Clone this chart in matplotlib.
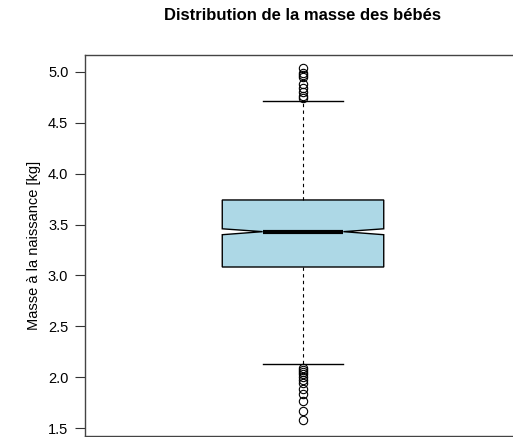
import matplotlib
matplotlib.use("Agg")
import matplotlib.pyplot as plt

plt.rcParams['font.family'] = ['Liberation Sans', 'DejaVu Sans']

# Data (kg)
q1 = 3.083
median = 3.430
q3 = 3.741
notch_lo = 3.400
notch_hi = 3.458
whisker_lo = 2.132
whisker_hi = 4.712
outliers_high = [5.04, 4.99, 4.97, 4.95, 4.88, 4.84, 4.80, 4.76, 4.74]
outliers_low = [2.09, 2.07, 2.05, 2.03, 2.00, 1.97, 1.94, 1.89, 1.84, 1.77, 1.67, 1.58]
yticks = [1.5, 2.0, 2.5, 3.0, 3.5, 4.0, 4.5, 5.0]

W, H = 513, 437
fig = plt.figure(figsize=(W / 100, H / 100), dpi=100)
left, right, top, bottom = 85, 521, 54.7, 435.5
ax = fig.add_axes([left / W, 1 - bottom / H, (right - left) / W, (bottom - top) / H])

stats = [dict(med=median, q1=q1, q3=q3, whislo=whisker_lo, whishi=whisker_hi,
              cilo=notch_lo, cihi=notch_hi,
              fliers=outliers_high + outliers_low, label='')]

ax.bxp(stats, positions=[1], widths=0.4, shownotches=True, patch_artist=True,
       boxprops=dict(facecolor='#ADD8E6', edgecolor='black', linewidth=1.0),
       medianprops=dict(color='black', linewidth=3.0),
       whiskerprops=dict(color='black', linestyle=(0, (3, 3)), linewidth=0.8),
       capprops=dict(color='black', linewidth=1.0),
       flierprops=dict(marker='o', markerfacecolor='none', markeredgecolor='black',
                       markersize=6, markeredgewidth=0.8))

ax.set_xlim(0.46, 1.54)
ax.set_ylim(1.429, 5.167)
ax.set_xticks([])
ax.set_yticks(yticks)
ax.set_yticklabels([f"{t:.1f}" for t in yticks])
ax.tick_params(axis='y', length=7, width=0.8, labelsize=10.5, pad=5, colors='#333333', labelcolor='black')
for s in ax.spines.values():
    s.set_color('#444444')
    s.set_linewidth(1.0)

ax.set_ylabel('Masse à la naissance [kg]', fontsize=10.5, labelpad=5)
ax.set_title('Distribution de la masse des bébés', fontsize=12, fontweight='bold', pad=25)

fig.savefig('out.png', dpi=100)
